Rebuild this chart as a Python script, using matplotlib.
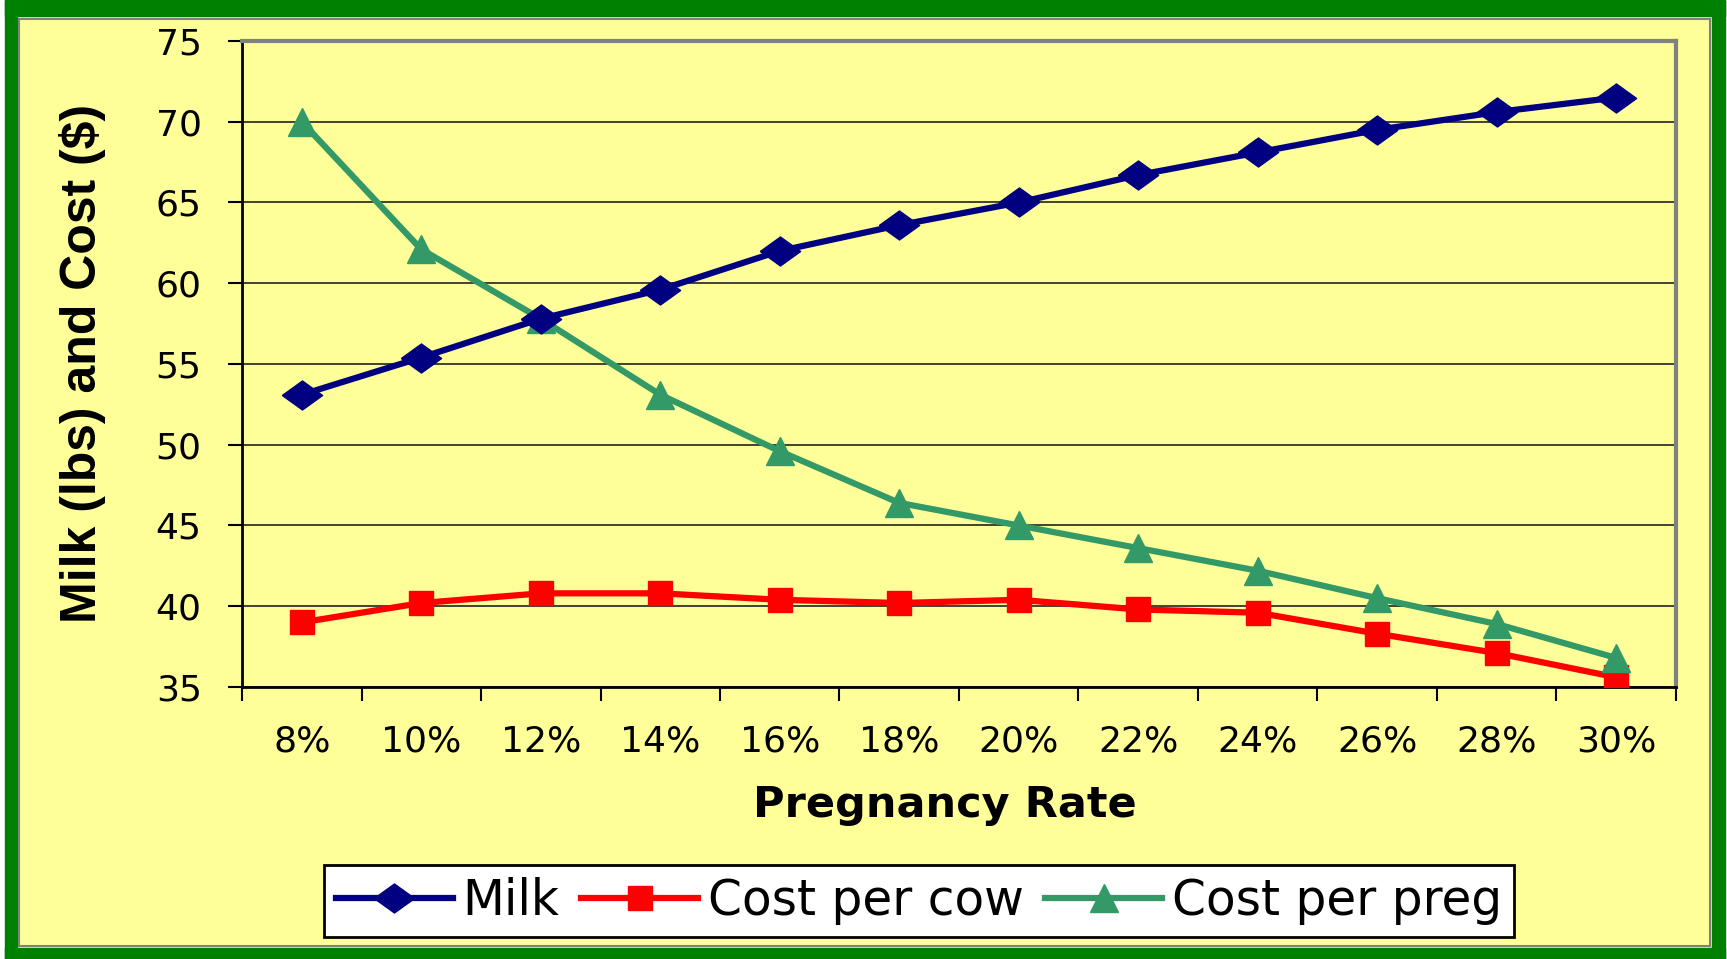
import matplotlib

matplotlib.use('Agg')
import matplotlib.pyplot as plt
from matplotlib.patches import Rectangle

# data
rates = ['8%', '10%', '12%', '14%', '16%', '18%', '20%', '22%', '24%', '26%', '28%', '30%']
milk = [53.1, 55.4, 57.8, 59.6, 62.0, 63.6, 65.0, 66.7, 68.1, 69.5, 70.6, 71.5]
cost_per_cow = [39.0, 40.2, 40.8, 40.8, 40.4, 40.2, 40.4, 39.8, 39.6, 38.3, 37.1, 35.6]
cost_per_preg = [70.0, 62.1, 57.8, 53.1, 49.6, 46.4, 45.0, 43.6, 42.2, 40.5, 38.9, 36.8]
y_ticks = [35, 40, 45, 50, 55, 60, 65, 70, 75]

W, H = 1727, 959
fig = plt.figure(figsize=(W / 100, H / 100), dpi=100)
fig.patch.set_facecolor('#FFFF99')

# green frame round the picture
def band(x, y, w, h, color):
    fig.patches.append(Rectangle((x / W, 1 - (y + h) / H), w / W, h / H,
                                 transform=fig.transFigure, color=color, zorder=0))

band(0, 0, 5, H, 'white')
band(W - 2, 0, 2, H, 'white')
band(5, 0, W - 7, 16, '#008000')
band(5, 0, 12, H, '#008000')
band(W - 15, 0, 13, H, '#008000')
band(5, H - 11, W - 7, 11, '#008000')
fig.patches.append(Rectangle((19 / W, 13 / H), (W - 36) / W, (H - 32) / H, fill=False,
                             edgecolor='#808080', lw=1.5, transform=fig.transFigure, zorder=1))

ax = fig.add_axes([242 / W, 1 - 687 / H, (1676 - 242) / W, (687 - 41) / H])
ax.set_facecolor('#FFFF99')
x = list(range(len(rates)))

diamond = [(-1, 0), (0, 0.72), (1, 0), (0, -0.72), (-1, 0)]
ax.plot(x, milk, color='#000080', lw=4.5, marker=diamond, ms=29, label='Milk', zorder=4)
ax.plot(x, cost_per_cow, color='#FF0000', lw=4.5, marker='s', ms=17, label='Cost per cow', zorder=3)
ax.plot(x, cost_per_preg, color='#339966', lw=4.5, marker='^', ms=20, label='Cost per preg', zorder=3)

ax.set_xlim(-0.5, len(rates) - 0.5)
ax.set_ylim(35, 75)
ax.set_yticks(y_ticks)
ax.grid(axis='y', color='#222222', lw=1.2, zorder=1)
ax.set_axisbelow(True)

ax.set_xticks(x)
ax.set_xticklabels(rates)
ax.set_xticks([i - 0.5 for i in range(len(rates) + 1)], minor=True)
ax.tick_params(axis='x', which='major', length=0, pad=27, labelsize=26, colors='black')
ax.tick_params(axis='x', which='minor', length=10, width=1.5, direction='out')
ax.tick_params(axis='y', length=10, width=1.5, pad=19, labelsize=26)

for s in ['left', 'bottom']:
    ax.spines[s].set_color('black')
    ax.spines[s].set_linewidth(2)
for s in ['top', 'right']:
    ax.spines[s].set_color('#808080')
    ax.spines[s].set_linewidth(3)

fig.text(83 / W, 1 - 363 / H, 'Milk (lbs) and Cost ($)', rotation=90, ha='center', va='center',
         fontsize=36, fontweight='bold', family=['Liberation Sans', 'DejaVu Sans'])
fig.text(945 / W, 1 - 805 / H, 'Pregnancy Rate', ha='center', va='center',
         fontsize=31, fontweight='bold')

leg = ax.legend(loc='center', bbox_to_anchor=(919 / W, 1 - 901 / H), bbox_transform=fig.transFigure,
                ncol=3, fontsize=35, handlelength=2.4, handletextpad=0.2, columnspacing=0.45,
                borderpad=0.25, fancybox=False, framealpha=1)
leg.get_frame().set_edgecolor('black')
leg.get_frame().set_linewidth(2)

plt.savefig('out.png', dpi=100, facecolor=fig.get_facecolor())
